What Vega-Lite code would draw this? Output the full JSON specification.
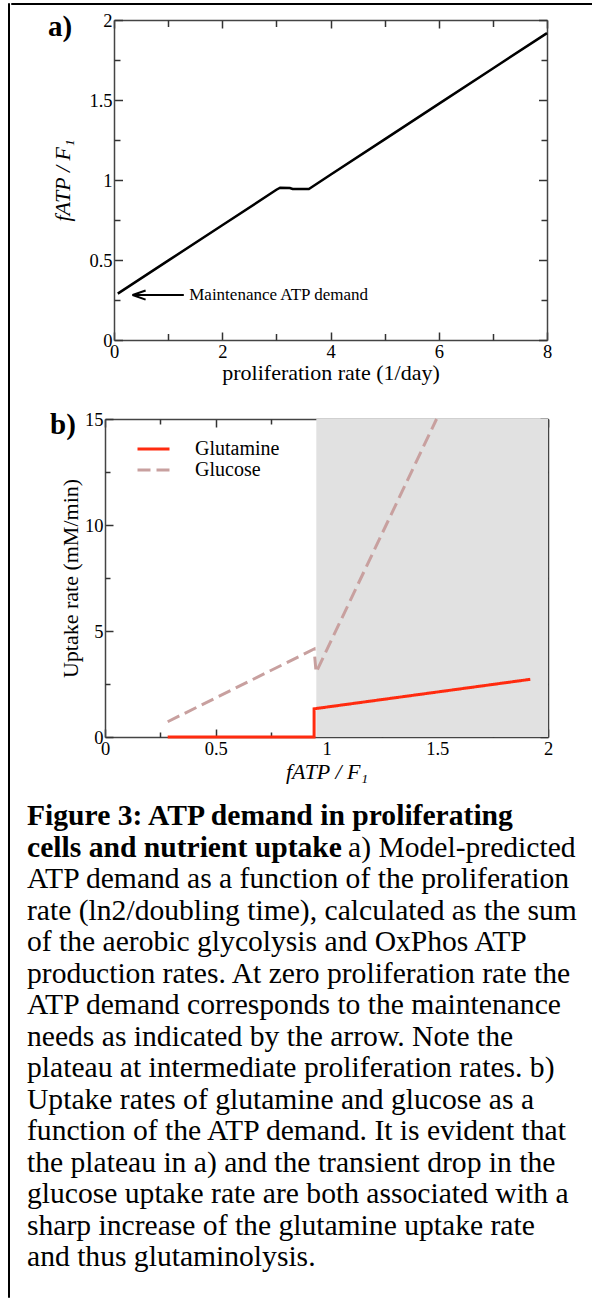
{
  "$schema": "https://vega.github.io/schema/vega-lite/v6.json",
  "background": "white",
  "padding": {"left": 7, "top": 2, "right": 0, "bottom": 0},
  "config": {
    "font": "Liberation Serif",
    "view": {"stroke": null},
    "axis": {"domain": true, "domainColor": "#444", "domainWidth": 1.5, "grid": false, "tickColor": "#333", "tickWidth": 1.5, "tickSize": -8, "labelFont": "Liberation Serif", "labelFontSize": 18.5, "labelColor": "#000", "labelPadding": 10, "labelFlush": false, "labelOverlap": false, "labelBound": false, "titleFont": "Liberation Serif", "titleFontSize": 22, "titleFontWeight": "normal", "titleColor": "#000", "zindex": 1},
    "title": {"font": "Liberation Serif", "fontSize": 29, "fontWeight": "bold", "color": "#000", "anchor": "start", "frame": "group", "offset": 0, "baseline": "alphabetic"},
    "legend": {"orient": "none", "symbolType": "stroke", "symbolSize": 1024, "symbolStrokeWidth": 3, "labelFont": "Liberation Serif", "labelFontSize": 20, "labelColor": "#000", "labelOffset": 24, "rowPadding": 0, "clipHeight": 17, "labelLimit": 0, "padding": 0}
  },
  "spacing": 0,
  "resolve": {"scale": {"color": "independent", "strokeDash": "independent"}},
  "hconcat": [
    {"width": 1, "height": 1294, "data": {"values": []}, "mark": "rule", "encoding": {}, "view": {"stroke": "#000", "strokeWidth": 1}},
    {
      "spacing": 6,
      "resolve": {"scale": {"color": "independent", "strokeDash": "independent"}},
      "vconcat": [
        {"width": 583, "height": 1, "data": {"values": []}, "mark": "rule", "encoding": {}, "view": {"stroke": "#000", "strokeWidth": 1}},
        {
          "spacing": 26,
          "resolve": {"scale": {"color": "independent", "strokeDash": "independent"}},
          "vconcat": [
            {
              "spacing": 36,
              "hconcat": [
                {"width": 1, "height": 1, "data": {"values": []}, "mark": "rule", "encoding": {}},
                {
                  "width": 433,
                  "height": 320,
                  "title": {"text": "a)", "dx": -66, "dy": 35},
                  "resolve": {"axis": {"x": "independent", "y": "independent"}},
                  "layer": [
                    {
                      "data": {"values": [
                        {"x": 0.07, "y": 0.29}, {"x": 1, "y": 0.496}, {"x": 2, "y": 0.717}, {"x": 3, "y": 0.939},
                        {"x": 3.07, "y": 0.952}, {"x": 3.25, "y": 0.95}, {"x": 3.3, "y": 0.944}, {"x": 3.6, "y": 0.944},
                        {"x": 3.65, "y": 0.955}, {"x": 4, "y": 1.033}, {"x": 5, "y": 1.254}, {"x": 6, "y": 1.476},
                        {"x": 7, "y": 1.697}, {"x": 8, "y": 1.918}
                      ]},
                      "mark": {"type": "line", "color": "#000", "strokeWidth": 2.5},
                      "encoding": {
                        "x": {"field": "x", "type": "quantitative", "scale": {"domain": [0, 8], "nice": false, "zero": false},
                          "axis": {"values": [0, 2, 4, 6, 8], "format": "~g", "title": "proliferation rate (1/day)", "titlePadding": 2}},
                        "y": {"field": "y", "type": "quantitative", "scale": {"domain": [0, 2], "nice": false, "zero": false},
                          "axis": {"values": [0, 0.5, 1, 1.5, 2], "format": "~g", "tickSize": -8.5, "labelPadding": 10.5, "title": "fATP / F₁", "titleFontStyle": "italic", "titlePadding": 14}}
                      }
                    },
                    {
                      "data": {"values": [{"x": 0.34, "x2": 1.29, "y": 0.281}]},
                      "mark": {"type": "rule", "color": "#000", "strokeWidth": 2},
                      "encoding": {
                        "x": {"field": "x", "type": "quantitative", "scale": {"domain": [0, 8], "nice": false, "zero": false},
                          "axis": {"orient": "top", "values": [0, 2, 4, 6, 8], "labels": false, "title": null}},
                        "x2": {"field": "x2"},
                        "y": {"field": "y", "type": "quantitative", "scale": {"domain": [0, 2], "nice": false, "zero": false},
                          "axis": {"orient": "right", "values": [0, 0.5, 1, 1.5, 2], "tickSize": -8.5, "labels": false, "title": null}}
                      }
                    },
                    {
                      "data": {"values": [{"x": 0.464, "y": 0.281}]},
                      "mark": {"type": "point", "shape": "M-1,0L1,-0.7M-1,0L1,0.7", "size": 169, "filled": false, "stroke": "#000", "strokeWidth": 2, "opacity": 1},
                      "encoding": {
                        "x": {"field": "x", "type": "quantitative", "scale": {"domain": [0, 8], "nice": false, "zero": false},
                          "axis": {"values": [1, 3, 5, 7], "tickSize": -6.5, "domain": false, "labels": false, "title": null}},
                        "y": {"field": "y", "type": "quantitative", "scale": {"domain": [0, 2], "nice": false, "zero": false},
                          "axis": {"values": [0.25, 0.75, 1.25, 1.75], "tickSize": -6, "domain": false, "labels": false, "title": null}}
                      }
                    },
                    {
                      "data": {"values": [{"x": 1.39, "y": 0.281, "label": "Maintenance ATP demand"}]},
                      "mark": {"type": "text", "align": "left", "baseline": "middle", "fontSize": 17, "font": "Liberation Serif", "color": "#000"},
                      "encoding": {
                        "x": {"field": "x", "type": "quantitative", "scale": {"domain": [0, 8], "nice": false, "zero": false},
                          "axis": {"orient": "top", "values": [1, 3, 5, 7], "tickSize": -6.5, "domain": false, "labels": false, "title": null}},
                        "y": {"field": "y", "type": "quantitative", "scale": {"domain": [0, 2], "nice": false, "zero": false},
                          "axis": {"orient": "right", "values": [0.25, 0.75, 1.25, 1.75], "tickSize": -6, "domain": false, "labels": false, "title": null}},
                        "text": {"field": "label"}
                      }
                    }
                  ]
                }
              ]
            },
            {
              "spacing": 18,
              "resolve": {"scale": {"color": "independent", "strokeDash": "independent"}},
              "vconcat": [
                {
                  "spacing": 38,
                  "resolve": {"scale": {"color": "independent", "strokeDash": "independent"}},
                  "hconcat": [
                    {"width": 1, "height": 1, "data": {"values": []}, "mark": "rule", "encoding": {}},
                    {
                      "width": 443,
                      "height": 318,
                      "title": {"text": "b)", "dx": -55, "dy": 34},
                      "resolve": {"axis": {"x": "independent", "y": "independent"}},
                      "layer": [
                        {
                          "data": {"values": [{"x": 0.954, "x2": 2, "y": 0, "y2": 15}]},
                          "mark": {"type": "rect", "color": "#e1e1e1"},
                          "encoding": {
                            "x": {"field": "x", "type": "quantitative", "scale": {"domain": [0, 2], "nice": false, "zero": false},
                              "axis": {"orient": "top", "values": [0, 0.5, 1, 1.5, 2], "labels": false, "title": null}},
                            "x2": {"field": "x2"},
                            "y": {"field": "y", "type": "quantitative", "scale": {"domain": [0, 15], "nice": false, "zero": false},
                              "axis": {"orient": "right", "values": [0, 5, 10, 15], "labels": false, "title": null}},
                            "y2": {"field": "y2"}
                          }
                        },
                        {
                          "data": {"values": [
                            {"series": "Glutamine", "i": 1, "x": 0.283, "y": 0},
                            {"series": "Glutamine", "i": 2, "x": 0.944, "y": 0},
                            {"series": "Glutamine", "i": 3, "x": 0.944, "y": 1.33},
                            {"series": "Glutamine", "i": 4, "x": 1.92, "y": 2.72},
                            {"series": "Glucose", "i": 1, "x": 0.283, "y": 0.72},
                            {"series": "Glucose", "i": 2, "x": 0.944, "y": 4.15},
                            {"series": "Glucose", "i": 3, "x": 0.953, "y": 3.05},
                            {"series": "Glucose", "i": 4, "x": 1.497, "y": 15}
                          ]},
                          "mark": {"type": "line", "strokeWidth": 3},
                          "encoding": {
                            "x": {"field": "x", "type": "quantitative", "scale": {"domain": [0, 2], "nice": false, "zero": false},
                              "axis": {"values": [0, 0.5, 1, 1.5, 2], "format": "~g", "title": "fATP / F₁", "titleFontStyle": "italic", "titlePadding": 4}},
                            "y": {"field": "y", "type": "quantitative", "scale": {"domain": [0, 15], "nice": false, "zero": false},
                              "axis": {"values": [0, 5, 10, 15], "format": "~g", "title": "Uptake rate (mM/min)", "titlePadding": 2}},
                            "color": {"field": "series", "type": "nominal", "scale": {"domain": ["Glutamine", "Glucose"], "range": ["#ff2b0f", "#c8a09f"]}, "legend": {"title": null, "legendX": 31, "legendY": 21.5}},
                            "strokeDash": {"field": "series", "type": "nominal", "scale": {"domain": ["Glutamine", "Glucose"], "range": [[1, 0], [13, 6]]}, "legend": {"title": null, "legendX": 31, "legendY": 21.5}},
                            "order": {"field": "i", "type": "quantitative"}
                          }
                        },
                        {
                          "data": {"values": []},
                          "mark": "rule",
                          "encoding": {
                            "x": {"field": "x", "type": "quantitative", "scale": {"domain": [0, 2], "nice": false, "zero": false},
                              "axis": {"values": [0.25, 0.75, 1.25, 1.75], "tickSize": -5, "domain": false, "labels": false, "title": null}},
                            "y": {"field": "y", "type": "quantitative", "scale": {"domain": [0, 15], "nice": false, "zero": false},
                              "axis": {"values": [2.5, 7.5, 12.5], "tickSize": -5, "domain": false, "labels": false, "title": null}}
                          }
                        },
                        {
                          "data": {"values": []},
                          "mark": "rule",
                          "encoding": {
                            "x": {"field": "x", "type": "quantitative", "scale": {"domain": [0, 2], "nice": false, "zero": false},
                              "axis": {"orient": "top", "values": [0.25, 0.75, 1.25, 1.75], "tickSize": -5, "domain": false, "labels": false, "title": null}},
                            "y": {"field": "y", "type": "quantitative", "scale": {"domain": [0, 15], "nice": false, "zero": false},
                              "axis": {"orient": "right", "values": [2.5, 7.5, 12.5], "tickSize": -5, "domain": false, "labels": false, "title": null}}
                          }
                        }
                      ]
                    }
                  ]
                },
                {
                  "spacing": 15,
                  "hconcat": [
                    {"width": 1, "height": 1, "data": {"values": []}, "mark": "rule", "encoding": {}},
                    {
                      "width": 556,
                      "height": 441,
                      "data": {"values": [
                        {"line": 1, "part": "b", "text": "Figure 3: ATP demand in proliferating"},
                        {"line": 2, "part": "b", "text": "cells and nutrient uptake"},
                        {"line": 2, "part": "r2", "text": "a) Model-predicted"},
                        {"line": 3, "part": "r", "text": "ATP demand as a function of the proliferation"},
                        {"line": 4, "part": "r", "text": "rate (ln2/doubling time), calculated as the sum"},
                        {"line": 5, "part": "r", "text": "of the aerobic glycolysis and OxPhos ATP"},
                        {"line": 6, "part": "r", "text": "production rates. At zero proliferation rate the"},
                        {"line": 7, "part": "r", "text": "ATP demand corresponds to the maintenance"},
                        {"line": 8, "part": "r", "text": "needs as indicated by the arrow. Note the"},
                        {"line": 9, "part": "r", "text": "plateau at intermediate proliferation rates. b)"},
                        {"line": 10, "part": "r", "text": "Uptake rates of glutamine and glucose as a"},
                        {"line": 11, "part": "r", "text": "function of the ATP demand. It is evident that"},
                        {"line": 12, "part": "r", "text": "the plateau in a) and the transient drop in the"},
                        {"line": 13, "part": "r", "text": "glucose uptake rate are both associated with a"},
                        {"line": 14, "part": "r", "text": "sharp increase of the glutamine uptake rate"},
                        {"line": 15, "part": "r", "text": "and thus glutaminolysis."}
                      ]},
                      "encoding": {
                        "y": {"field": "line", "type": "quantitative", "scale": {"domain": [1, 15], "reverse": true, "nice": false, "zero": false}, "axis": null},
                        "x": {"value": 0},
                        "text": {"field": "text"}
                      },
                      "layer": [
                        {"transform": [{"filter": "datum.part === 'b'"}], "mark": {"type": "text", "align": "left", "baseline": "alphabetic", "fontSize": 29.6, "fontWeight": "bold", "font": "Liberation Serif", "color": "#000"}},
                        {"transform": [{"filter": "datum.part === 'r2'"}], "mark": {"type": "text", "align": "left", "baseline": "alphabetic", "dx": 321, "fontSize": 29.6, "font": "Liberation Serif", "color": "#000"}},
                        {"transform": [{"filter": "datum.part === 'r'"}], "mark": {"type": "text", "align": "left", "baseline": "alphabetic", "fontSize": 29.6, "font": "Liberation Serif", "color": "#000"}}
                      ]
                    }
                  ]
                }
              ]
            }
          ]
        }
      ]
    }
  ]
}
